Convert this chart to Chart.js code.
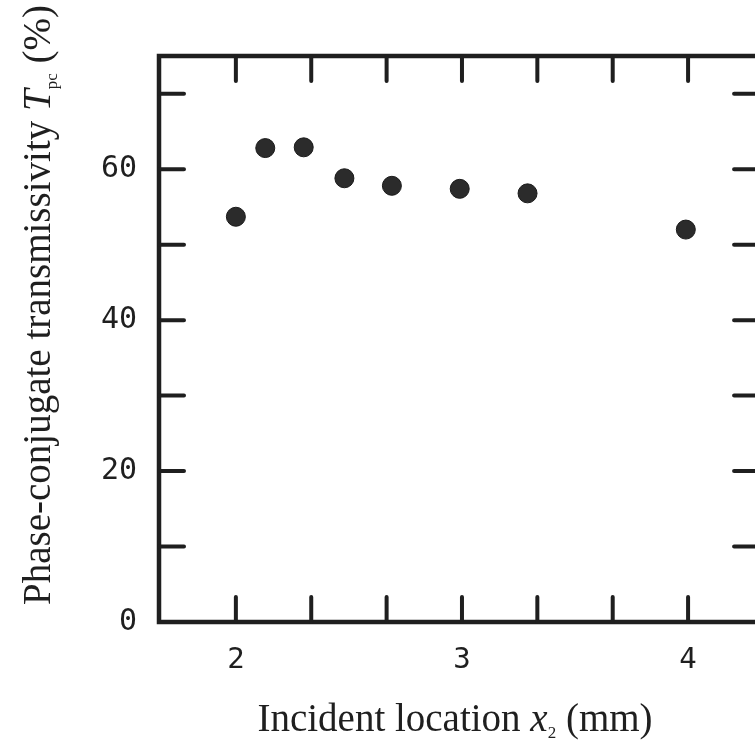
<!DOCTYPE html>
<html><head><meta charset="utf-8">
<script src="https://cdn.jsdelivr.net/npm/chart.js@4"></script>
<style>html,body{margin:0;padding:0;background:#fff;overflow:hidden;} #wrap{width:755px;height:749px;}</style>
</head><body><div id="wrap"><canvas id="c" width="755" height="749"></canvas></div>
<script>
// ---- data ----
const xValues   = [2.00, 2.13, 2.30, 2.48, 2.69, 2.99, 3.29, 3.99];   // incident location x2 (mm)
const tpcValues = [53.7, 62.8, 62.9, 58.8, 57.8, 57.4, 56.8, 52.0];   // T_pc (%)
const xTickValues = [2, 7/3, 8/3, 3, 10/3, 11/3, 4];
const xTickLabels = ['2', '', '', '3', '', '', '4'];
const yTickValues = [0, 10, 20, 30, 40, 50, 60, 70];
const yTickLabels = ['0', '', '20', '', '40', '', '60', ''];
const xFrameRight = 4.314;   // right border of the frame lies just outside the picture
const xTitleParts = [
  {text: 'Incident location ', style: 'normal'},
  {text: 'x', style: 'italic'},
  {text: '2', style: 'sub'},
  {text: ' (mm)', style: 'normal'}
];
const yTitleParts = [
  {text: 'Phase-conjugate transmissivity ', style: 'normal'},
  {text: 'T', style: 'italic'},
  {text: 'pc', style: 'sub'},
  {text: ' (%)', style: 'normal'}
];

const INK = '#1f1f1f';
const SERIF = '"Liberation Serif", "Times New Roman", serif';

function fontFor(style) {
  if (style === 'italic') return 'italic 39px ' + SERIF;
  if (style === 'sub') return '17px ' + SERIF;
  return '39px ' + SERIF;
}
function drawRich(ctx, parts, cx, baseline) {
  let w = 0;
  parts.forEach(p => { ctx.font = fontFor(p.style); w += ctx.measureText(p.text).width; });
  let x = cx - w / 2;
  parts.forEach(p => {
    ctx.font = fontFor(p.style);
    ctx.fillText(p.text, x, baseline + (p.style === 'sub' ? 7 : 0));
    x += ctx.measureText(p.text).width;
  });
}

const framePlugin = {
  id: 'frameTicks',
  afterDraw(chart) {
    const {ctx, chartArea: a, scales} = chart;
    const right = scales.x.getPixelForValue(xFrameRight);
    ctx.save();
    ctx.strokeStyle = INK;
    ctx.lineWidth = 4.5;
    ctx.lineCap = 'round';
    ctx.strokeRect(a.left, a.top, right - a.left, a.bottom - a.top);
    const L = 25;
    ctx.lineWidth = 4;
    ctx.beginPath();
    scales.x.ticks.forEach(t => {
      const px = scales.x.getPixelForValue(t.value);
      ctx.moveTo(px, a.bottom); ctx.lineTo(px, a.bottom - L);
      ctx.moveTo(px, a.top); ctx.lineTo(px, a.top + L);
    });
    scales.y.ticks.forEach(t => {
      const py = scales.y.getPixelForValue(t.value);
      if (t.value === 0) return;
      ctx.moveTo(a.left, py); ctx.lineTo(a.left + L, py);
      ctx.moveTo(right, py); ctx.lineTo(right - L, py);
    });
    ctx.stroke();
    // axis titles
    ctx.fillStyle = INK;
    ctx.textBaseline = 'alphabetic';
    ctx.textAlign = 'left';
    drawRich(ctx, xTitleParts, 455, 731);
    ctx.translate(50, 305);
    ctx.rotate(-Math.PI / 2);
    drawRich(ctx, yTitleParts, 0, 0);
    ctx.restore();
  }
};

new Chart(document.getElementById('c'), {
  type: 'scatter',
  data: {
    datasets: [{
      data: xValues.map((x, i) => ({x, y: tpcValues[i]})),
      pointRadius: 9.5,
      pointHoverRadius: 9.5,
      backgroundColor: '#2b2b2b',
      borderColor: '#1a1a1a',
      borderWidth: 1,
      showLine: false
    }]
  },
  options: {
    responsive: false,
    animation: false,
    events: [],
    layout: {autoPadding: false, padding: {top: 56, right: 0, left: 0, bottom: 0}},
    plugins: {legend: {display: false}, tooltip: {enabled: false}},
    scales: {
      x: {
        type: 'linear', min: 1.66, max: 4.296,
        afterBuildTicks: s => { s.ticks = xTickValues.map(v => ({value: v})); },
        afterFit: s => { s.height = 127; s.paddingLeft = 0; s.paddingRight = 0; },
        grid: {display: false},
        border: {display: false},
        ticks: {
          autoSkip: false, maxRotation: 0, padding: 13, color: INK,
          font: {family: '"DejaVu Sans Mono", monospace', size: 29},
          callback: (v, i) => xTickLabels[i]
        },
        title: {display: false}
      },
      y: {
        type: 'linear', min: 0, max: 75,
        afterBuildTicks: s => { s.ticks = yTickValues.map(v => ({value: v})); },
        afterFit: s => { s.width = 159; },
        grid: {display: false},
        border: {display: false},
        ticks: {
          autoSkip: false, padding: 14, color: INK,
          font: {family: '"DejaVu Sans Mono", monospace', size: 30},
          callback: (v, i) => yTickLabels[i]
        },
        title: {display: false}
      }
    }
  },
  plugins: [framePlugin]
});
</script>
</body></html>
